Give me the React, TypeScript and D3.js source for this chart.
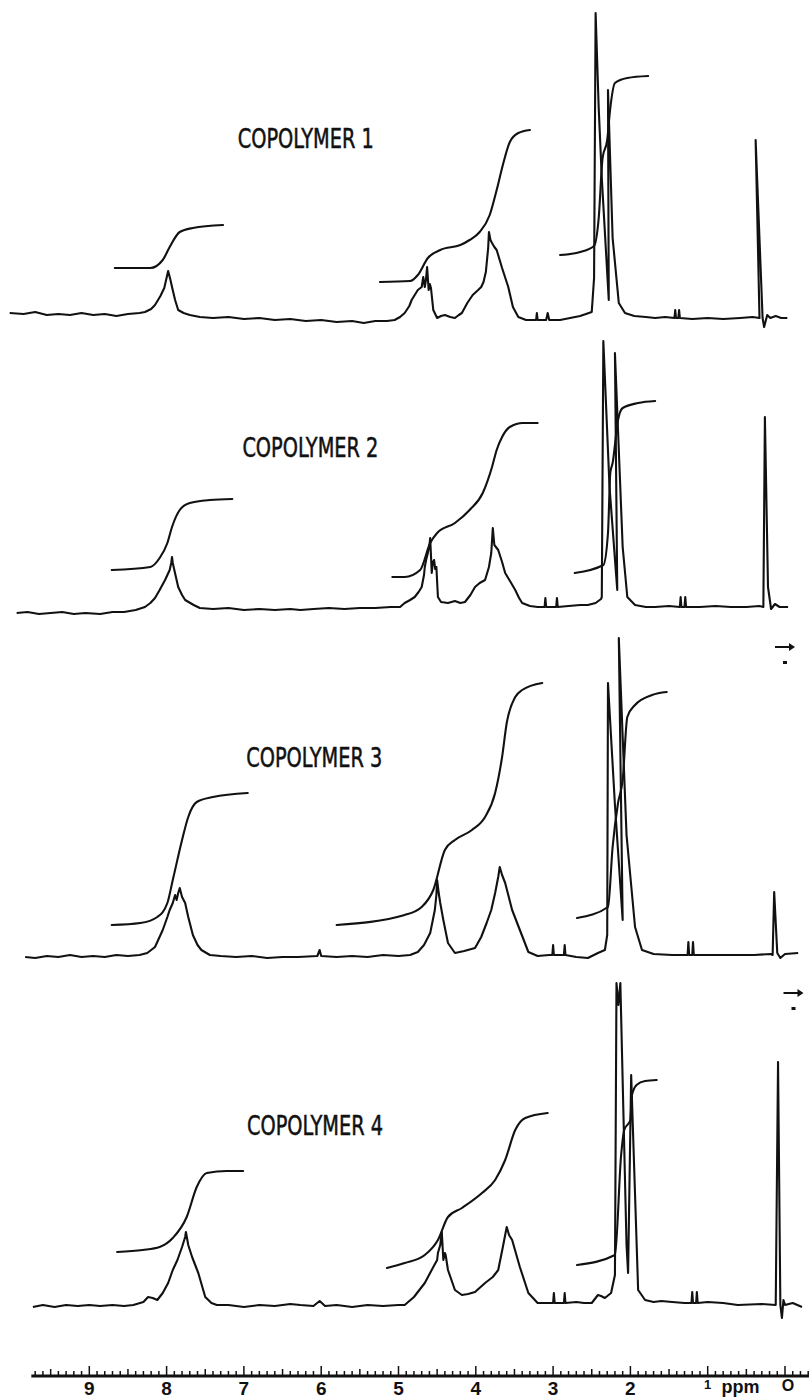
import React, { useEffect, useRef } from "react";
import * as d3 from "d3";

type Pt = [number, number];

// traced spectra, [ppm, signal height]
const spectrum1: Pt[] = [
  [10.03, 5], [9.85, 4], [9.7, 6], [9.55, 3], [9.4, 4], [9.25, 3], [9.1, 5], [8.95, 3], [8.8, 4], [8.65, 2],
  [8.5, 4], [8.35, 5], [8.28, 6], [8.2, 9], [8.15, 13], [8.08, 22], [8.03, 30], [7.98, 47], [7.95, 38], [7.93, 31],
  [7.89, 18], [7.85, 8], [7.78, 5], [7.7, 3], [7.57, 1], [7.4, 0], [7.2, 1], [7.0, -1], [6.8, 0], [6.6, -2],
  [6.4, -1], [6.2, -3], [6.0, -2], [5.8, -4], [5.6, -3], [5.45, -5], [5.3, -3], [5.15, -3], [5.05, -2], [4.98, 1],
  [4.92, 5], [4.86, 12], [4.83, 18], [4.75, 28], [4.7, 31], [4.68, 41], [4.66, 31], [4.645, 38], [4.63, 51], [4.61, 28],
  [4.595, 34], [4.58, 30], [4.55, 8], [4.5, 0], [4.45, 2], [4.4, 3], [4.33, 1], [4.27, 0], [4.22, 3], [4.18, 5],
  [4.11, 15], [4.04, 23], [3.97, 28], [3.93, 31], [3.9, 36], [3.87, 46], [3.84, 70], [3.83, 86], [3.81, 78], [3.79, 75],
  [3.76, 71], [3.73, 68], [3.66, 50], [3.58, 31], [3.52, 11], [3.45, 1], [3.35, -2], [3.22, -2], [3.21, 5], [3.2, -2],
  [3.09, -2], [3.07, 5], [3.05, -2], [2.91, -2], [2.78, 0], [2.65, 2], [2.5, 6], [2.47, 40], [2.45, 305], [2.41, 210],
  [2.37, 140], [2.28, 18], [2.29, 228], [2.23, 80], [2.15, 15], [2.07, 5], [1.95, 2], [1.8, 1], [1.68, 0], [1.55, 1],
  [1.43, 0], [1.42, 8], [1.41, 0], [1.38, 0], [1.37, 8], [1.36, 0], [1.2, -1], [1.0, 0], [0.8, -1], [0.58, 0],
  [0.42, 1], [0.33, 0], [0.38, 178], [0.29, 0], [0.27, -9], [0.23, 3], [0.19, 0], [0.12, 2], [0.05, 0], [-0.03, 0],
];

const integrals1: Pt[][] = [
  [[8.67, 50], [8.21, 50], [8.05, 58], [7.96, 71], [7.83, 86], [7.66, 90], [7.27, 93]],
  [[5.24, 36], [4.85, 37], [4.75, 43], [4.62, 60], [4.46, 68], [4.2, 73], [4.08, 78], [3.95, 86], [3.82, 103],
    [3.73, 128], [3.65, 153], [3.56, 176], [3.45, 185], [3.3, 188]],
  [[2.91, 63], [2.65, 66], [2.47, 72], [2.41, 100], [2.36, 160], [2.3, 178], [2.26, 210], [2.2, 235], [2.04, 240], [1.77, 242]],
];

const spectrum2: Pt[] = [
  [9.94, -6], [9.8, -5], [9.65, -7], [9.5, -6], [9.35, -5], [9.2, -7], [9.05, -6], [8.86, -7], [8.7, -5], [8.55, -5],
  [8.4, -3], [8.28, 0], [8.21, 4], [8.15, 9], [8.09, 17], [8.02, 27], [7.96, 37], [7.94, 44], [7.93, 50], [7.92, 44],
  [7.9, 37], [7.85, 20], [7.8, 12], [7.76, 7], [7.65, 2], [7.57, -1], [7.4, -2], [7.2, -1], [7.0, -3], [6.8, -2],
  [6.6, -3], [6.4, -2], [6.27, -3], [6.1, -2], [5.9, -1], [5.7, -2], [5.5, -1], [5.3, -1], [5.1, 0], [4.98, 0],
  [4.92, 4], [4.85, 7], [4.79, 10], [4.74, 15], [4.7, 20], [4.67, 32], [4.66, 40], [4.64, 48], [4.62, 54], [4.6, 62],
  [4.59, 69], [4.57, 34], [4.555, 45], [4.54, 47], [4.525, 38], [4.51, 40], [4.49, 10], [4.45, 5], [4.36, 4], [4.27, 6],
  [4.2, 4], [4.14, 5], [4.07, 12], [4.01, 20], [3.95, 24], [3.88, 27], [3.83, 40], [3.8, 54], [3.78, 79], [3.76, 62],
  [3.71, 57], [3.66, 45], [3.62, 34], [3.55, 25], [3.49, 17], [3.44, 9], [3.4, 4], [3.3, 1], [3.2, 0], [3.11, 0],
  [3.1, 9], [3.09, 0], [2.96, 0], [2.95, 9], [2.94, 0], [2.8, 1], [2.65, 2], [2.55, 2], [2.45, 4], [2.38, 8],
  [2.37, 10], [2.35, 266], [2.27, 120], [2.17, 17], [2.2, 254], [2.1, 60], [2.04, 10], [1.94, 2], [1.8, 0], [1.68, 0],
  [1.5, 1], [1.36, 0], [1.35, 10], [1.34, 0], [1.3, 0], [1.29, 10], [1.28, 0], [1.1, 0], [0.9, 1], [0.7, 0],
  [0.5, 0], [0.33, 1], [0.28, 0], [0.26, 190], [0.22, 20], [0.18, -2], [0.13, 3], [0.07, 0], [-0.04, 0],
];

const integrals2: Pt[][] = [
  [[8.71, 37], [8.21, 40], [8.09, 49], [7.99, 64], [7.93, 80], [7.83, 97], [7.7, 104], [7.44, 107], [7.15, 108]],
  [[5.08, 30], [4.92, 30], [4.72, 37], [4.59, 64], [4.5, 74], [4.27, 84], [4.08, 97], [3.91, 114], [3.79, 140],
    [3.73, 157], [3.66, 170], [3.56, 180], [3.39, 184], [3.2, 184]],
  [[2.72, 34], [2.35, 42], [2.29, 74], [2.26, 134], [2.23, 144], [2.16, 187], [2.1, 199], [1.9, 204], [1.68, 206]],
];

const spectrum3: Pt[] = [
  [9.83, -2], [9.7, -3], [9.55, -1], [9.4, -2], [9.25, 0], [9.1, -2], [8.95, -1], [8.8, -2], [8.65, 0], [8.5, -1],
  [8.35, 0], [8.25, 2], [8.15, 8], [8.05, 25], [7.99, 38], [7.96, 45], [7.92, 52], [7.89, 60], [7.87, 55], [7.85, 62],
  [7.83, 67], [7.8, 58], [7.76, 52], [7.72, 38], [7.66, 20], [7.6, 10], [7.55, 5], [7.44, 0], [7.3, -1], [7.1, -2],
  [6.9, -1], [6.7, -3], [6.5, -2], [6.3, -2], [6.05, -1], [6.02, 5], [6.0, -1], [5.8, -2], [5.6, -1], [5.4, -2],
  [5.2, 0], [5.0, -1], [4.85, 0], [4.75, 3], [4.67, 10], [4.59, 22], [4.53, 45], [4.51, 60], [4.5, 75], [4.48, 62],
  [4.46, 52], [4.42, 35], [4.36, 12], [4.27, 2], [4.15, 4], [4.01, 7], [3.93, 18], [3.86, 32], [3.8, 45], [3.75, 62],
  [3.71, 78], [3.69, 88], [3.66, 80], [3.62, 72], [3.53, 45], [3.43, 25], [3.32, 3], [3.2, -1], [3.05, 0], [3.01, 0],
  [3.0, 10], [2.99, 0], [2.86, 0], [2.85, 10], [2.84, 0], [2.7, -2], [2.55, -3], [2.42, 2], [2.33, 5], [2.3, 20],
  [2.29, 272], [2.2, 150], [2.1, 35], [2.15, 317], [2.05, 120], [1.94, 28], [1.85, 5], [1.7, 1], [1.46, 0], [1.3, 0],
  [1.26, 0], [1.25, 13], [1.24, 0], [1.2, 0], [1.19, 13], [1.18, 0], [1.0, 0], [0.8, 0], [0.61, 0], [0.4, 0],
  [0.18, 1], [0.16, 0], [0.14, 63], [0.1, 2], [0.06, -3], [0.0, 1], [-0.17, 2],
];

const integrals3: Pt[][] = [
  [[8.71, 30], [8.34, 32], [8.12, 38], [7.99, 52], [7.92, 75], [7.8, 115], [7.72, 138], [7.61, 153], [7.4, 158], [6.95, 162]],
  [[5.8, 30], [4.92, 40], [4.7, 48], [4.55, 65], [4.4, 105], [4.27, 115], [4.05, 125], [3.88, 138], [3.75, 162],
    [3.66, 198], [3.6, 232], [3.49, 258], [3.4, 265], [3.14, 272]],
  [[2.69, 37], [2.29, 48], [2.23, 108], [2.16, 152], [2.1, 175], [2.04, 238], [1.94, 250], [1.72, 260], [1.53, 263]],
];

const spectrum4: Pt[] = [
  [9.73, -2], [9.6, 0], [9.45, -2], [9.3, 0], [9.15, -1], [9.0, 0], [8.86, -1], [8.7, 0], [8.55, -1], [8.43, 0],
  [8.3, 3], [8.24, 8], [8.18, 7], [8.12, 5], [8.05, 12], [7.98, 22], [7.92, 35], [7.86, 45], [7.8, 58], [7.76, 68],
  [7.75, 73], [7.72, 60], [7.67, 48], [7.63, 40], [7.59, 32], [7.5, 8], [7.42, 2], [7.35, 0], [7.2, 0], [7.0, -2],
  [6.8, 0], [6.6, -1], [6.4, 1], [6.27, 0], [6.1, -1], [6.02, 4], [5.95, -1], [5.8, 0], [5.6, -2], [5.4, 0],
  [5.2, -1], [5.0, 0], [4.92, 0], [4.8, 8], [4.66, 22], [4.55, 38], [4.5, 45], [4.49, 52], [4.46, 60], [4.44, 73],
  [4.42, 45], [4.4, 52], [4.39, 50], [4.36, 35], [4.27, 15], [4.18, 10], [4.1, 11], [4.01, 13], [3.88, 22], [3.78, 28],
  [3.71, 35], [3.65, 58], [3.6, 78], [3.57, 70], [3.53, 65], [3.43, 38], [3.32, 12], [3.2, 2], [3.1, 2], [3.0, 2],
  [2.99, 12], [2.98, 2], [2.86, 2], [2.85, 12], [2.84, 2], [2.7, 3], [2.6, 2], [2.5, 2], [2.42, 10], [2.38, 9],
  [2.33, 7], [2.25, 12], [2.2, 30], [2.18, 322], [2.155, 300], [2.13, 322], [2.05, 60], [2.03, 32], [1.99, 230], [1.9, 15],
  [1.81, 5], [1.7, 3], [1.6, 4], [1.46, 3], [1.3, 2], [1.21, 2], [1.2, 13], [1.19, 2], [1.15, 2], [1.14, 13],
  [1.13, 2], [1.0, 3], [0.8, 2], [0.61, 0], [0.3, 1], [0.12, 0], [0.09, 243], [0.06, 0], [0.04, -13], [0.02, 5],
  [0.0, 0], [-0.1, 2], [-0.22, -2],
];

const integrals4: Pt[][] = [
  [[8.64, 53], [8.31, 55], [8.09, 58], [7.92, 67], [7.74, 88], [7.61, 118], [7.48, 132], [7.22, 134], [7.01, 134]],
  [[5.15, 37], [4.92, 42], [4.66, 50], [4.49, 65], [4.36, 88], [4.18, 97], [3.92, 112], [3.75, 125], [3.62, 145],
    [3.49, 175], [3.36, 187], [3.07, 192]],
  [[2.69, 40], [2.2, 50], [2.12, 150], [2.08, 175], [2.0, 185], [1.98, 210], [1.92, 220], [1.81, 224], [1.66, 225]],
];

const names = ["COPOLYMER 1", "COPOLYMER 2", "COPOLYMER 3", "COPOLYMER 4"];
const spectra = [spectrum1, spectrum2, spectrum3, spectrum4];
const integrals = [integrals1, integrals2, integrals3, integrals4];
const axisLabels = [9, 8, 7, 6, 5, 4, 3, 2];

// layout
const W = 809, H = 1400;
const baselines = [318, 607, 955, 1305];
const labelAt: Pt[] = [[6.2, 170], [6.14, 150], [6.09, 188], [6.08, 170]];
const arrowAt: (Pt | null)[] = [null, null, [0.0, 308], [-0.11, 312]];
const rulerY = 1376;
const ink = "#111";

export default function App() {
  const ref = useRef<SVGSVGElement>(null);

  useEffect(() => {
    const svg = d3.select(ref.current);
    svg.selectAll("*").remove();

    const x = d3.scaleLinear().domain([0, 9]).range([785, 89.3]);

    spectra.forEach((spec, i) => {
      const base = baselines[i];
      const y = d3.scaleLinear().domain([0, 100]).range([base, base - 100]);
      const g = svg.append("g");

      const trace = d3.line<Pt>().x(d => x(d[0])).y(d => y(d[1]));
      const smooth = d3.line<Pt>().x(d => x(d[0])).y(d => y(d[1])).curve(d3.curveMonotoneX);

      g.append("path")
        .attr("d", trace(spec))
        .attr("fill", "none")
        .attr("stroke", ink)
        .attr("stroke-width", 2.1)
        .attr("stroke-linejoin", "round");

      integrals[i].forEach(seg => {
        g.append("path")
          .attr("d", smooth(seg))
          .attr("fill", "none")
          .attr("stroke", ink)
          .attr("stroke-width", 2.1)
          .attr("stroke-linecap", "round");
      });

      g.append("text")
        .attr("x", x(labelAt[i][0]))
        .attr("y", y(labelAt[i][1]))
        .attr("text-anchor", "middle")
        .attr("textLength", 136)
        .attr("lengthAdjust", "spacingAndGlyphs")
        .attr("font-family", "'Liberation Sans Narrow', 'DejaVu Sans Condensed', 'Liberation Sans', sans-serif")
        .attr("font-size", 27)
        .attr("fill", ink)
        .attr("stroke", ink)
        .attr("stroke-width", 0.5)
        .text(names[i]);

      const a = arrowAt[i];
      if (a) {
        const ax = x(a[0]), ay = y(a[1]);
        g.append("path")
          .attr("d", `M${ax - 10},${ay} L${ax + 6},${ay}`)
          .attr("stroke", ink)
          .attr("stroke-width", 2);
        g.append("path")
          .attr("d", `M${ax + 4},${ay - 4} L${ax + 10},${ay} L${ax + 4},${ay + 4} Z`)
          .attr("fill", ink);
        g.append("rect")
          .attr("x", ax - 2).attr("y", ay + 14)
          .attr("width", 4).attr("height", 3)
          .attr("fill", ink);
      }
    });

    // ppm ruler
    const ax = svg.append("g");
    ax.append("line")
      .attr("x1", x(9.75)).attr("x2", x(-0.31))
      .attr("y1", rulerY).attr("y2", rulerY)
      .attr("stroke", ink).attr("stroke-width", 2.8);

    const ticks = d3.range(-3, 98).map(i => i / 10);
    ax.selectAll("line.tick")
      .data(ticks)
      .join("line")
      .attr("class", "tick")
      .attr("x1", d => x(d)).attr("x2", d => x(d))
      .attr("y1", rulerY)
      .attr("y2", d => {
        const k = Math.round(d * 10);
        if (k % 10 === 0) return rulerY - 10;
        if (k % 5 === 0) return rulerY - 7;
        return rulerY - 5;
      })
      .attr("stroke", ink)
      .attr("stroke-width", 1.5);

    const font = "'Liberation Sans', Arial, sans-serif";
    ax.selectAll("text.lab")
      .data(axisLabels)
      .join("text")
      .attr("class", "lab")
      .attr("x", d => x(d))
      .attr("y", rulerY + 19)
      .attr("text-anchor", "middle")
      .attr("font-family", font)
      .attr("font-weight", "bold")
      .attr("font-size", 19)
      .attr("fill", ink)
      .text(d => d);

    ax.append("text")
      .attr("x", x(1)).attr("y", rulerY + 13)
      .attr("text-anchor", "middle")
      .attr("font-family", font)
      .attr("font-weight", "bold")
      .attr("font-size", 13)
      .attr("fill", ink)
      .text("1");
    ax.append("text")
      .attr("x", x(0.82)).attr("y", rulerY + 17)
      .attr("font-family", font)
      .attr("font-weight", "bold")
      .attr("font-size", 18)
      .attr("fill", ink)
      .text("ppm");
    ax.append("text")
      .attr("x", x(-0.04)).attr("y", rulerY + 15)
      .attr("text-anchor", "middle")
      .attr("font-family", font)
      .attr("font-weight", "bold")
      .attr("font-size", 16)
      .attr("fill", ink)
      .text("O");
  }, []);

  return (
    <svg
      ref={ref}
      width={W}
      height={H}
      style={{ position: "absolute", left: 0, top: 0, background: "#fff" }}
    />
  );
}
